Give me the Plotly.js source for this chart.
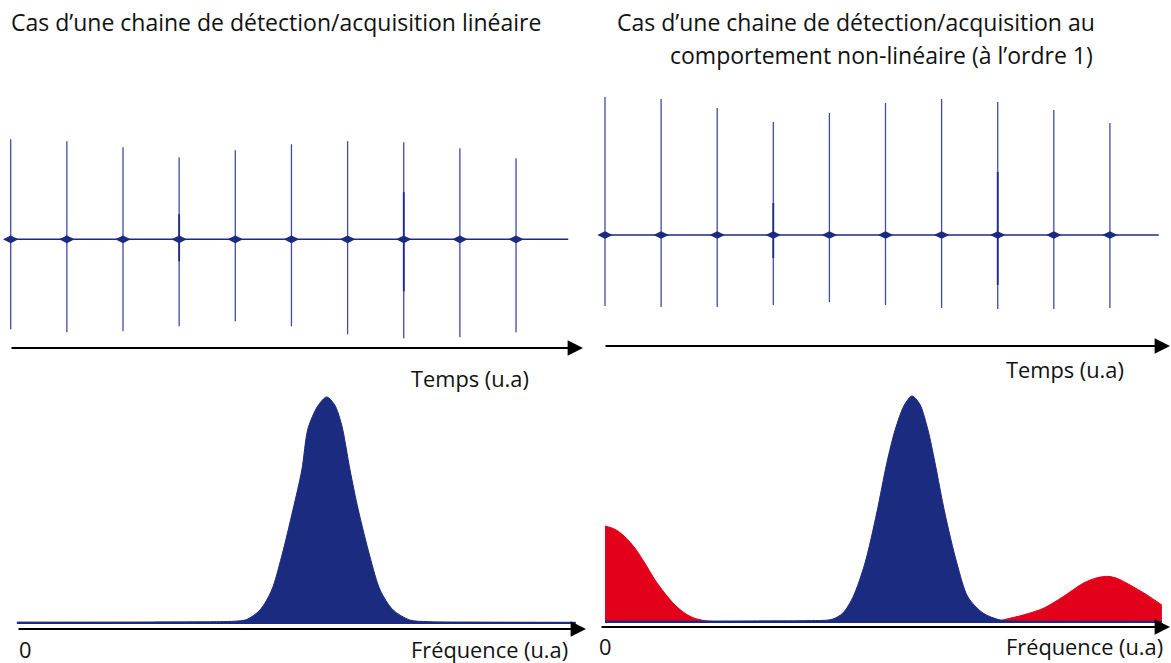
<!DOCTYPE html>
<html>
<head>
<meta charset="utf-8">
<script src="https://cdn.plot.ly/plotly-3.0.1.min.js"></script>
<style>
  html, body { margin: 0; padding: 0; background: #ffffff; }
  #chart { width: 1171px; height: 663px; }
</style>
</head>
<body>
<div id="chart"></div>
<script>
// ---------- Data ----------
// Time domain: pulse index (u.a) and pulse extremes (u.a)
const pulseTimes = [0, 1, 2, 3, 4, 5, 6, 7, 8, 9];
const linTop    = [1.00, 0.98, 0.92, 0.82, 0.89, 0.95, 0.98, 0.97, 0.91, 0.81];
const linBottom = [-0.90, -0.93, -0.92, -0.87, -0.82, -0.87, -0.95, -0.99, -0.98, -0.93];
const linInnerIdx = [3, 7];
const linInnerTop = [0.25, 0.47];
const linInnerBottom = [-0.22, -0.52];
const linBaseRange = [-0.07, 9.93];

const nlTop    = [1.38, 1.36, 1.27, 1.13, 1.22, 1.32, 1.36, 1.33, 1.25, 1.12];
const nlBottom = [-0.71, -0.72, -0.72, -0.70, -0.67, -0.70, -0.73, -0.74, -0.74, -0.73];
const nlInnerIdx = [3, 7];
const nlInnerTop = [0.32, 0.63];
const nlInnerBottom = [-0.23, -0.50];
const nlBaseRange = [-0.02, 9.87];

// Frequency domain (frequency u.a, amplitude u.a)
const linSpecF = [-0.01, 0.30, 0.55, 0.65, 0.70, 0.738, 0.782, 0.820, 0.852, 0.889, 0.918, 0.938, 0.970, 0.999, 1.025, 1.048, 1.075, 1.102, 1.140, 1.173, 1.215, 1.270, 1.330, 1.500, 1.810];
const linSpecA = [0.004, 0.004, 0.005, 0.006, 0.008, 0.015, 0.058, 0.146, 0.293, 0.500, 0.677, 0.860, 0.960, 1.000, 0.965, 0.875, 0.677, 0.500, 0.293, 0.146, 0.058, 0.013, 0.006, 0.004, 0.003];
const linBaseF = [-0.01, 1.81];

const nlSpecF = [0.0, 0.30, 0.50, 0.65, 0.74, 0.775, 0.808, 0.847, 0.885, 0.918, 0.945, 0.975, 1.000, 1.025, 1.052, 1.075, 1.107, 1.146, 1.182, 1.231, 1.287, 1.350, 1.500, 1.814];
const nlSpecA = [0.004, 0.004, 0.005, 0.006, 0.012, 0.040, 0.111, 0.261, 0.482, 0.704, 0.850, 0.960, 1.000, 0.965, 0.850, 0.704, 0.482, 0.261, 0.111, 0.040, 0.009, 0.004, 0.003, 0.003];
const nlBaseF = [0.0, 1.814];

const redLowF = [0.0, 0.033, 0.065, 0.098, 0.130, 0.163, 0.195, 0.228, 0.261, 0.293, 0.336, 0.400, 0.500];
const redLowA = [0.425, 0.410, 0.377, 0.326, 0.260, 0.186, 0.127, 0.075, 0.038, 0.016, 0.004, 0.001, 0.000];
const redHighF = [1.280, 1.296, 1.362, 1.427, 1.492, 1.557, 1.600, 1.638, 1.668, 1.710, 1.765, 1.814];
const redHighA = [0.004, 0.009, 0.031, 0.060, 0.112, 0.171, 0.195, 0.202, 0.193, 0.164, 0.120, 0.075];

// Texts
const titleLeft = "Cas d\u2019une chaine de d\u00e9tection/acquisition lin\u00e9aire";
const titleRight1 = "Cas d\u2019une chaine de d\u00e9tection/acquisition au";
const titleRight2 = "comportement non-lin\u00e9aire (\u00e0 l\u2019ordre 1)";
const timeLabel = "Temps (u.a)";
const freqLabel = "Fr\u00e9quence (u.a)";
const zeroLabel = "0";

// ---------- Styles ----------
const NAVY = "#1b2b80";
const PULSE = "#3d4ca7";
const RED = "#e2001a";
const FONT = "Open Sans, Noto Sans, sans-serif";
const TITLE_SIZE = 23;
const LABEL_SIZE = 21.8;

function segs(times, tops, bottoms) {
  const x = [], y = [];
  times.forEach((t, i) => { x.push(t, t, null); y.push(tops[i], bottoms[i], null); });
  return {x, y};
}
function innerSegs(idx, tops, bottoms) {
  const x = [], y = [];
  idx.forEach((k, i) => { x.push(pulseTimes[k], pulseTimes[k], null); y.push(tops[i], bottoms[i], null); });
  return {x, y};
}

const traces = [];
function timePanel(xa, ya, tops, bottoms, iIdx, iTop, iBot, baseRange) {
  const s = segs(pulseTimes, tops, bottoms);
  traces.push({type: "scatter", mode: "lines", x: s.x, y: s.y, xaxis: xa, yaxis: ya,
    line: {color: PULSE, width: 1.3}, hoverinfo: "skip"});
  const si = innerSegs(iIdx, iTop, iBot);
  traces.push({type: "scatter", mode: "lines", x: si.x, y: si.y, xaxis: xa, yaxis: ya,
    line: {color: NAVY, width: 1.8}, hoverinfo: "skip"});
  traces.push({type: "scatter", mode: "lines", x: baseRange, y: [0, 0], xaxis: xa, yaxis: ya,
    line: {color: NAVY, width: 1.5}, hoverinfo: "skip"});
  traces.push({type: "scatter", mode: "markers", x: pulseTimes, y: pulseTimes.map(() => 0), xaxis: xa, yaxis: ya,
    marker: {symbol: "diamond-wide", size: 11, color: NAVY, line: {width: 0}}, hoverinfo: "skip"});
}
timePanel("x", "y", linTop, linBottom, linInnerIdx, linInnerTop, linInnerBottom, linBaseRange);
timePanel("x2", "y2", nlTop, nlBottom, nlInnerIdx, nlInnerTop, nlInnerBottom, nlBaseRange);

// Bottom-left spectrum
traces.push({type: "scatter", mode: "lines", x: linSpecF, y: linSpecA, xaxis: "x3", yaxis: "y3",
  fill: "tozeroy", fillcolor: NAVY, line: {color: NAVY, width: 1, shape: "spline", smoothing: 0.8}, hoverinfo: "skip"});
traces.push({type: "scatter", mode: "lines", x: linBaseF, y: [0, 0], xaxis: "x3", yaxis: "y3",
  line: {color: NAVY, width: 2}, hoverinfo: "skip"});

// Bottom-right spectrum
traces.push({type: "scatter", mode: "lines", x: redLowF, y: redLowA, xaxis: "x4", yaxis: "y4",
  fill: "tozeroy", fillcolor: RED, line: {color: RED, width: 1, shape: "spline", smoothing: 0.8}, hoverinfo: "skip"});
traces.push({type: "scatter", mode: "lines", x: redHighF, y: redHighA, xaxis: "x4", yaxis: "y4",
  fill: "tozeroy", fillcolor: RED, line: {color: RED, width: 1, shape: "spline", smoothing: 0.8}, hoverinfo: "skip"});
traces.push({type: "scatter", mode: "lines", x: nlSpecF, y: nlSpecA, xaxis: "x4", yaxis: "y4",
  fill: "tozeroy", fillcolor: NAVY, line: {color: NAVY, width: 1, shape: "spline", smoothing: 0.8}, hoverinfo: "skip"});
traces.push({type: "scatter", mode: "lines", x: nlBaseF, y: [0, 0], xaxis: "x4", yaxis: "y4",
  line: {color: NAVY, width: 2}, hoverinfo: "skip"});

const H = 663, W = 1171;
const py = v => 1 - v / H;
const px = v => v / W;

function hidden(extra) {
  return Object.assign({visible: false, showgrid: false, zeroline: false, fixedrange: true}, extra);
}

function arrow(tipX, y, tailX) {
  return {xref: "paper", yref: "paper", x: px(tipX), y: py(y), ax: tailX - tipX, ay: 0,
    axref: "pixel", ayref: "pixel", showarrow: true, arrowhead: 2, arrowsize: 1.4,
    arrowwidth: 2.2, arrowcolor: "#000000", text: "", standoff: 0};
}
function label(text, x, y, size, anchor) {
  return {xref: "paper", yref: "paper", x: px(x), y: py(y), text: text, showarrow: false,
    xanchor: anchor || "left", yanchor: "middle", font: {family: FONT, size: size, color: "#111111"}};
}

const layout = {
  width: W, height: H,
  margin: {l: 0, r: 0, t: 0, b: 0},
  paper_bgcolor: "#ffffff", plot_bgcolor: "#ffffff",
  showlegend: false,
  xaxis:  hidden({domain: [0, 0.5], range: [-0.1906, 10.237]}),
  yaxis:  hidden({domain: [py(350), py(90)], range: [-1.107, 1.493]}),
  xaxis2: hidden({domain: [0.5, 1], range: [-0.3476, 10.089]}),
  yaxis2: hidden({domain: [py(350), py(90)], range: [-1.15, 1.45]}),
  xaxis3: hidden({domain: [0, 0.5], range: [-0.0651, 1.842]}),
  yaxis3: hidden({domain: [py(640), py(380)], range: [-0.0752, 1.075]}),
  xaxis4: hidden({domain: [0.5, 1], range: [-0.0635, 1.8436]}),
  yaxis4: hidden({domain: [py(640), py(380)], range: [-0.0796, 1.0708]}),
  annotations: [
    arrow(583, 348, 10),
    arrow(1170, 346, 604),
    arrow(586, 629, 17),
    arrow(1170, 627, 600),
    label(titleLeft, 9, 22, TITLE_SIZE),
    label(titleRight1, 856, 22, TITLE_SIZE, "center"),
    label(titleRight2, 881, 55, TITLE_SIZE, "center"),
    label(timeLabel, 409, 378, LABEL_SIZE),
    label(timeLabel, 1004, 369, LABEL_SIZE),
    label(freqLabel, 409, 649, LABEL_SIZE),
    label(freqLabel, 1004, 646, LABEL_SIZE),
    label(zeroLabel, 17, 649, LABEL_SIZE),
    label(zeroLabel, 597, 646, LABEL_SIZE)
  ]
};

Plotly.newPlot("chart", traces, layout, {displayModeBar: false, staticPlot: true});
</script>
</body>
</html>
